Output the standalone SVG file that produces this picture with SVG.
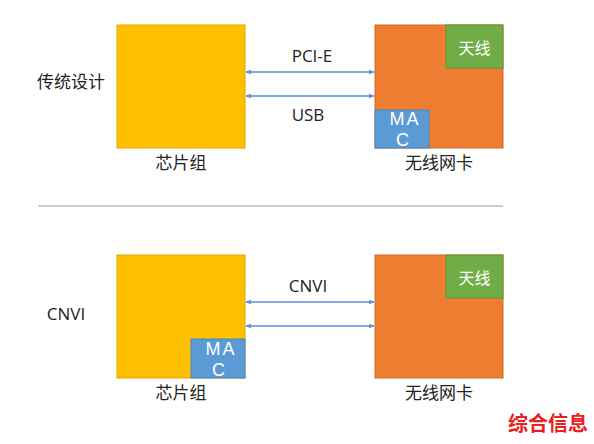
<svg xmlns="http://www.w3.org/2000/svg" width="594" height="444" viewBox="0 0 594 444">
<style>
text{font-family:"Open Sans","Noto Sans CJK SC",sans-serif;font-size:17px;fill:#222}
.cn{font-family:"Noto Sans CJK SC",sans-serif}
.w{fill:#fff}
.m{font-family:"Liberation Sans",Arial,sans-serif;font-size:18px}
.ls{letter-spacing:2px}
.a{font-size:16px}
.chip{fill:#FFC000;stroke:#E0A800;stroke-width:1}
.nic{fill:#ED7D31;stroke:#D06A25;stroke-width:1}
.ant{fill:#70AD47;stroke:#5E9639;stroke-width:1}
.mac{fill:#5B9BD5;stroke:#4A85BE;stroke-width:1}
.conn{stroke:#5B8FD0;stroke-width:1.3;fill:none;marker-start:url(#ah);marker-end:url(#ah)}
</style>
<defs>
<marker id="ah" viewBox="0 0 10 10" refX="9" refY="5" markerWidth="6" markerHeight="6" orient="auto-start-reverse" markerUnits="userSpaceOnUse">
<path d="M0,1 L10,5 L0,9 Z" fill="#5B8FD0"/>
</marker>
</defs>
<rect width="594" height="444" fill="#fff"/>
<text id="lbl-trad" class="cn" x="71" y="88" text-anchor="middle">传统设计</text>
<text id="lbl-cnvi" x="66" y="320" text-anchor="middle">CNVI</text>
<line x1="38" y1="206" x2="503" y2="206" stroke="#999" stroke-width="1"/>
<g id="chip1">
<rect class="chip" x="117" y="25" width="128" height="123"/>
<text class="cn" x="181" y="169" text-anchor="middle">芯片组</text>
</g>
<g id="nic1">
<rect class="nic" x="375" y="25" width="128" height="123"/>
<rect class="ant" x="446" y="25" width="57" height="43"/>
<text class="cn w a" x="474.5" y="54" text-anchor="middle">天线</text>
<rect class="mac" x="375" y="110" width="54" height="38"/>
<text class="w m ls" x="405" y="125" text-anchor="middle">MA</text>
<text class="w m" x="402.5" y="146" text-anchor="middle">C</text>
<text class="cn" x="439" y="169" text-anchor="middle">无线网卡</text>
</g>
<g id="chip2">
<rect class="chip" x="117" y="255" width="128" height="123"/>
<rect class="mac" x="191" y="339" width="54" height="39"/>
<text class="w m ls" x="221" y="355" text-anchor="middle">MA</text>
<text class="w m" x="218.5" y="376" text-anchor="middle">C</text>
<text class="cn" x="181" y="399" text-anchor="middle">芯片组</text>
</g>
<g id="nic2">
<rect class="nic" x="375" y="255" width="128" height="123"/>
<rect class="ant" x="446" y="255" width="57" height="43"/>
<text class="cn w a" x="474.5" y="284" text-anchor="middle">天线</text>
<text class="cn" x="439" y="399" text-anchor="middle">无线网卡</text>
</g>
<g id="connectors">
<line class="conn" x1="246" y1="72" x2="374" y2="72"/>
<line class="conn" x1="246" y1="96" x2="374" y2="96"/>
<line class="conn" x1="246" y1="302" x2="374" y2="302"/>
<line class="conn" x1="246" y1="326" x2="374" y2="326"/>
<text x="312" y="62" text-anchor="middle">PCI-E</text>
<text x="308" y="121" text-anchor="middle">USB</text>
<text x="308" y="292" text-anchor="middle">CNVI</text>
</g>
<text id="watermark" class="cn" x="548" y="431" text-anchor="middle" style="font-size:20px;font-weight:bold;fill:#E8201E">综合信息</text>
</svg>
